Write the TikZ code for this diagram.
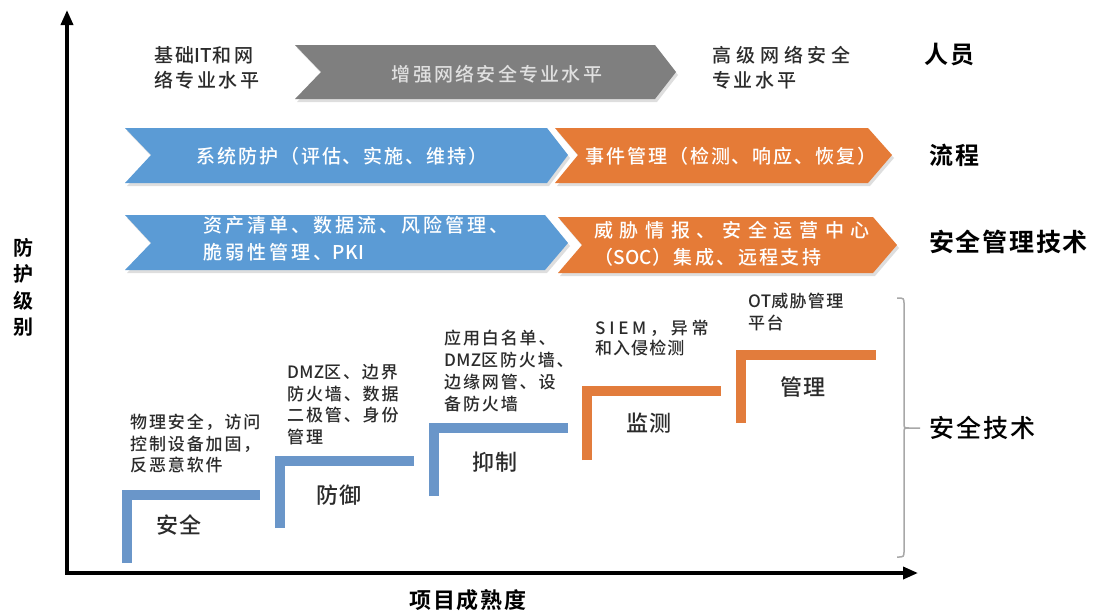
\documentclass[tikz,border=0pt]{standalone}
\usepackage{fontspec}
\setmainfont{Noto Sans CJK SC Medium}[BoldFont={Noto Sans CJK SC Bold}]
\usetikzlibrary{arrows.meta}
\definecolor{chvblue}{HTML}{5B9BD5}
\definecolor{chvorange}{HTML}{E57B37}
\definecolor{chvgray}{HTML}{7F7F7F}
\definecolor{stepblue}{HTML}{6A96C9}
\definecolor{steporange}{HTML}{E27C3C}
\definecolor{txtdark}{HTML}{2B2B2B}
\definecolor{bracegray}{HTML}{A8A8A8}
\newcommand{\fs}[3]{\fontsize{#1}{#2}\selectfont\addfontfeature{LetterSpace=#3}}
\newcommand{\lat}[1]{{\addfontfeature{LetterSpace=2}#1}}
\tikzset{
  axisline/.style={line width=3.5pt, -{Triangle[length=15pt,width=12pt]}},
  chvshadow/.style={fill=black, opacity=0.13},
  chvtext/.style={inner sep=0pt, text=white, font=\fs{19}{27}{10}},
  desc/.style={inner sep=0pt, anchor=west, align=left, text=txtdark, font=\fs{17}{21.7}{11}},
  steplbl/.style={inner sep=0pt, text=txtdark, font=\fs{22}{26}{3}},
  cat/.style={inner sep=0pt, anchor=west, text=black, font=\bfseries\fs{24}{28}{10}},
  stepbar/.style={line width=10pt, miter limit=10},
}
\begin{document}
\begin{tikzpicture}[x=1pt,y=-1pt]
\useasboundingbox[fill=white] (0,0) rectangle (1099,614);

% axes
\coordinate (origin) at (67,573);
\coordinate (ytip) at (67,10);
\coordinate (xtip) at (918,573);
\draw[axisline] ([yshift=1.75pt]origin) -- (ytip);
\draw[axisline] ([xshift=-1.75pt]origin) -- (xtip);
\node[inner sep=0pt, align=center, font=\bfseries\fs{20}{26.5}{0}] (ylab) at (23,287.5) {防\\护\\级\\别};
\node[inner sep=0pt, font=\bfseries\fs{22}{26}{8}] (xlab) at (468,600) {项目成熟度};

% people row (gray chevron)
\fill[chvshadow] (297,48) -- (657,48) -- (678,75) -- (657,102) -- (297,102) -- (323,75) -- cycle;
\fill[chvgray] (295,45) -- (655,45) -- (676,72) -- (655,99) -- (295,99) -- (321,72) -- cycle;
\node[chvtext, text=white!88!black, font=\fs{19}{27}{12}] (pmid) at (497,74) {增强网络安全专业水平};
\node[desc, font=\fs{19}{25}{13}] (pleft) at (154,67.5) {基础\lat{IT}和网\\络专业水平};
\node[desc, font=\fs{19}{25}{14}] (pright) at (712,67.5) {{\addfontfeature{LetterSpace=26}高级网络安全}\\专业水平};
\node[cat] (people) at (924,55) {人员};

% process row
\fill[chvshadow] (127,131) -- (549,131) -- (570,158) -- (549,186) -- (127,186) -- (153,158) -- cycle;
\fill[chvblue] (125,128) -- (547,128) -- (568,155) -- (547,183) -- (125,183) -- (151,155) -- cycle;
\fill[chvshadow] (557,131) -- (870,131) -- (894,158) -- (870,186) -- (557,186) -- (580,158) -- cycle;
\fill[chvorange] (555,128) -- (868,128) -- (892,155) -- (868,183) -- (555,183) -- (578,155) -- cycle;
\node[chvtext] (proc1) at (342,156) {系统防护（评估、实施、维持）};
\node[chvtext] (proc2) at (731,156) {事件管理（检测、响应、恢复）};
\node[cat] (process) at (929,155) {流程};

% security management technology row
\fill[chvshadow] (127,218) -- (547,218) -- (570,246) -- (547,273) -- (127,273) -- (153,246) -- cycle;
\fill[chvblue] (125,215) -- (545,215) -- (568,243) -- (545,270) -- (125,270) -- (151,243) -- cycle;
\fill[chvshadow] (560,220) -- (875,220) -- (899,248) -- (875,276) -- (560,276) -- (584,248) -- cycle;
\fill[chvorange] (558,217) -- (873,217) -- (897,245) -- (873,273) -- (558,273) -- (582,245) -- cycle;
\node[chvtext, anchor=west, align=left, font=\fs{19}{27}{16}] (smt1) at (203,239) {资产清单、数据流、风险管理、\\脆弱性管理、\lat{PKI}};
\node[chvtext, anchor=west, align=left, font=\fs{19}{27}{13}] (smt2) at (594,244) {{\addfontfeature{LetterSpace=35}威胁情报、安全运营中心}\\（\lat{SOC}）集成、远程支持};
\node[cat, font=\bfseries\fs{25}{28}{7}] (smt) at (929,242) {安全管理技术};

% security technology steps
\draw[stepbar, stepblue] (127,563) -- (127,494.5) -- (260,494.5);
\draw[stepbar, stepblue] (280,528) -- (280,460.5) -- (414,460.5);
\draw[stepbar, stepblue] (434,496) -- (434,428) -- (568,428);
\draw[stepbar, steporange] (587,460) -- (587,391) -- (721,391);
\draw[stepbar, steporange] (741,423) -- (741,355) -- (876,355);

\node[steplbl] (s1) at (179,525) {安全};
\node[steplbl] (s2) at (339,495) {防御};
\node[steplbl] (s3) at (495,462) {抑制};
\node[steplbl] (s4) at (649,423) {监测};
\node[steplbl] (s5) at (803,387) {管理};

\node[desc] (d1) at (130,443.5) {物理安全，访问\\控制设备加固，\\反恶意软件};
\node[desc] (d2) at (287,404.5) {\lat{DMZ}区、边界\\防火墙、数据\\二极管、身份\\管理};
\node[desc] (d3) at (444,371) {应用白名单、\\\lat{DMZ}区防火墙、\\边缘网管、设\\备防火墙};
\node[desc, font=\fs{17}{20.5}{6}] (d4) at (595,338) {{\addfontfeature{LetterSpace=22}SIEM，异常}\\和入侵检测};
\node[desc, font=\fs{17}{22}{8}] (d5) at (748,312) {\lat{OT}威胁管理\\平台};

% brace
\coordinate (btop) at (897,298);
\coordinate (bmid) at (920,428);
\coordinate (bbot) at (897,557);
\draw[bracegray, line width=1.5pt] (btop) .. controls (904,298) .. (904,305) -- (904,423) .. controls (904,428) .. (909,428) -- (bmid);
\draw[bracegray, line width=1.5pt] (909,428) .. controls (904,428) .. (904,433) -- (904,550) .. controls (904,557) .. (bbot);
\node[cat, font=\fs{25}{28}{8}] (sectech) at (929,428) {安全技术};
\end{tikzpicture}
\end{document}
